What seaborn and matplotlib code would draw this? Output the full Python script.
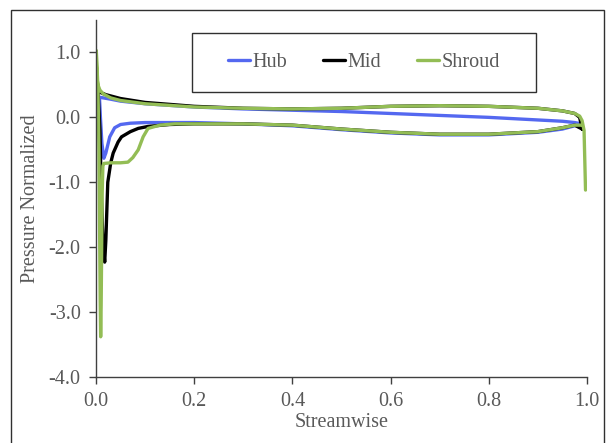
import pandas as pd
import matplotlib
matplotlib.use("Agg")
import matplotlib.pyplot as plt
from matplotlib.patches import Rectangle
from matplotlib.lines import Line2D
from matplotlib.ticker import FormatStrFormatter
import seaborn as sns

# Hub: upper / lower surface
hub_upper_x = [0.007, 0.015, 0.03, 0.05, 0.1, 0.2, 0.3, 0.4, 0.5, 0.6, 0.7, 0.8, 0.9, 0.95, 0.975, 0.988]
hub_upper_y = [0.31, 0.30, 0.28, 0.25, 0.21, 0.16, 0.13, 0.11, 0.09, 0.06, 0.03, 0.0, -0.04, -0.06, -0.08, -0.1]
hub_lower_x = [0.007, 0.009, 0.012, 0.016, 0.02, 0.028, 0.038, 0.05, 0.07, 0.1, 0.2, 0.3, 0.4, 0.5,
               0.6, 0.7, 0.8, 0.9, 0.95, 0.975, 0.988]
hub_lower_y = [0.31, 0.0, -0.4, -0.63, -0.55, -0.3, -0.16, -0.11, -0.09, -0.08, -0.08, -0.1, -0.13, -0.19,
               -0.24, -0.27, -0.27, -0.23, -0.18, -0.13, -0.1]

# Mid
mid_upper_x = [0.004, 0.01, 0.02, 0.03, 0.05, 0.1, 0.2, 0.3, 0.4, 0.5, 0.6, 0.7, 0.8, 0.9, 0.95, 0.975,
               0.985, 0.99]
mid_upper_y = [0.42, 0.38, 0.35, 0.33, 0.29, 0.23, 0.17, 0.14, 0.13, 0.14, 0.17, 0.18, 0.17, 0.14, 0.1, 0.06,
               0.0, -0.18]
mid_lower_x = [0.004, 0.008, 0.011, 0.014, 0.0177, 0.02, 0.024, 0.03, 0.035, 0.045, 0.052, 0.07, 0.086, 0.106,
               0.15, 0.2, 0.3, 0.4, 0.5, 0.6, 0.7, 0.8, 0.9, 0.95, 0.975, 0.99]
mid_lower_y = [0.42, -0.2, -1.2, -1.9, -2.23, -1.9, -1.0, -0.7, -0.55, -0.38, -0.3, -0.22, -0.17, -0.14,
               -0.11, -0.1, -0.1, -0.12, -0.18, -0.23, -0.26, -0.26, -0.22, -0.16, -0.12, -0.18]

# Shroud
shroud_upper_x = [0.0006, 0.001, 0.002, 0.004, 0.008, 0.015, 0.03, 0.05, 0.1, 0.2, 0.3, 0.4, 0.5, 0.6, 0.7,
                  0.8, 0.9, 0.95, 0.975, 0.985, 0.99, 0.994, 0.997]
shroud_upper_y = [1.03, 0.8, 0.6, 0.5, 0.42, 0.36, 0.3, 0.26, 0.21, 0.16, 0.14, 0.13, 0.14, 0.17, 0.18,
                  0.17, 0.14, 0.1, 0.06, 0.02, -0.05, -0.2, -1.12]
shroud_lower_x = [0.004, 0.006, 0.0085, 0.0095, 0.0105, 0.0125, 0.014, 0.016, 0.03, 0.05, 0.065, 0.075,
                  0.086, 0.096, 0.106, 0.13, 0.16, 0.2, 0.3, 0.4, 0.5, 0.6, 0.7, 0.8, 0.9, 0.95, 0.975, 0.99]
shroud_lower_y = [0.45, -0.5, -2.8, -3.38, -2.9, -1.2, -0.75, -0.71, -0.7, -0.7, -0.69, -0.62,
                  -0.5, -0.3, -0.17, -0.12, -0.1, -0.1, -0.1, -0.12, -0.18, -0.23, -0.26, -0.26, -0.22,
                  -0.16, -0.12, -0.12]

series_names = ["Hub", "Mid", "Shroud"]
colors = {"Hub": "#5468F0", "Mid": "#000000", "Shroud": "#93BD55"}

surfaces = {
    "Hub": (hub_upper_x, hub_upper_y, hub_lower_x, hub_lower_y),
    "Mid": (mid_upper_x, mid_upper_y, mid_lower_x, mid_lower_y),
    "Shroud": (shroud_upper_x, shroud_upper_y, shroud_lower_x, shroud_lower_y),
}

# one closed path per series: lower surface TE -> LE, then upper LE -> TE
rows = []
for name in series_names:
    ux, uy, lx, ly = surfaces[name]
    xs = lx[::-1] + ux
    ys = ly[::-1] + uy
    for i, (x, y) in enumerate(zip(xs, ys)):
        rows.append({"Streamwise": x, "Pressure": y, "series": name, "order": i})
df = pd.DataFrame(rows)

sns.set_style("white")
plt.rcParams["font.family"] = ["Liberation Serif", "DejaVu Serif"]
grey = "#595959"

fig = plt.figure(figsize=(6.08, 4.43), dpi=100)
ax = fig.add_axes([96 / 608, 1 - 377 / 443, (587 - 96) / 608, (377 - 20) / 443])

sns.lineplot(data=df, x="Streamwise", y="Pressure", hue="series", hue_order=series_names,
             palette=colors, sort=False, estimator=None, units="series", linewidth=2.4,
             legend=False, ax=ax)

ax.set_xlim(0, 1.0)
ax.set_ylim(-4.0, 1.5)
ax.set_xticks([0.0, 0.2, 0.4, 0.6, 0.8, 1.0])
ax.set_yticks([-4.0, -3.0, -2.0, -1.0, 0.0, 1.0])
ax.xaxis.set_major_formatter(FormatStrFormatter("%.1f"))
ax.yaxis.set_major_formatter(FormatStrFormatter("%.1f"))
ax.tick_params(axis="both", direction="out", length=5, width=1, color="#404040",
               labelsize=14.5, labelcolor=grey, pad=6, left=True, bottom=True)
for side in ["top", "right"]:
    ax.spines[side].set_visible(False)
for side in ["left", "bottom"]:
    ax.spines[side].set_color("#404040")
    ax.spines[side].set_linewidth(1)
ax.set_xlabel("Streamwise", fontsize=14.5, color=grey, labelpad=1)
ax.set_ylabel("Pressure Normalized", fontsize=14.5, color=grey, labelpad=6)

# legend
handles = [Line2D([], [], color=colors[n], lw=2.4) for n in series_names]
fig.legend(handles, series_names, loc="center", bbox_to_anchor=(364 / 608, 1 - 62 / 443), ncol=3,
           frameon=False, fontsize=14.5, handlelength=1.1, handletextpad=0.1, columnspacing=1.8,
           labelcolor=grey)
fig.add_artist(Rectangle((192 / 608, 1 - 92 / 443), (536 - 192) / 608, (92 - 33) / 443,
                         transform=fig.transFigure, fill=False, edgecolor="#303030", lw=1))

# outer chart border
fig.add_artist(Rectangle((11 / 608, -0.05), (604 - 11) / 608, 1.05 - 10 / 443,
                         transform=fig.transFigure, fill=False, edgecolor="#303030", lw=1))

fig.savefig("out.png", dpi=100)
